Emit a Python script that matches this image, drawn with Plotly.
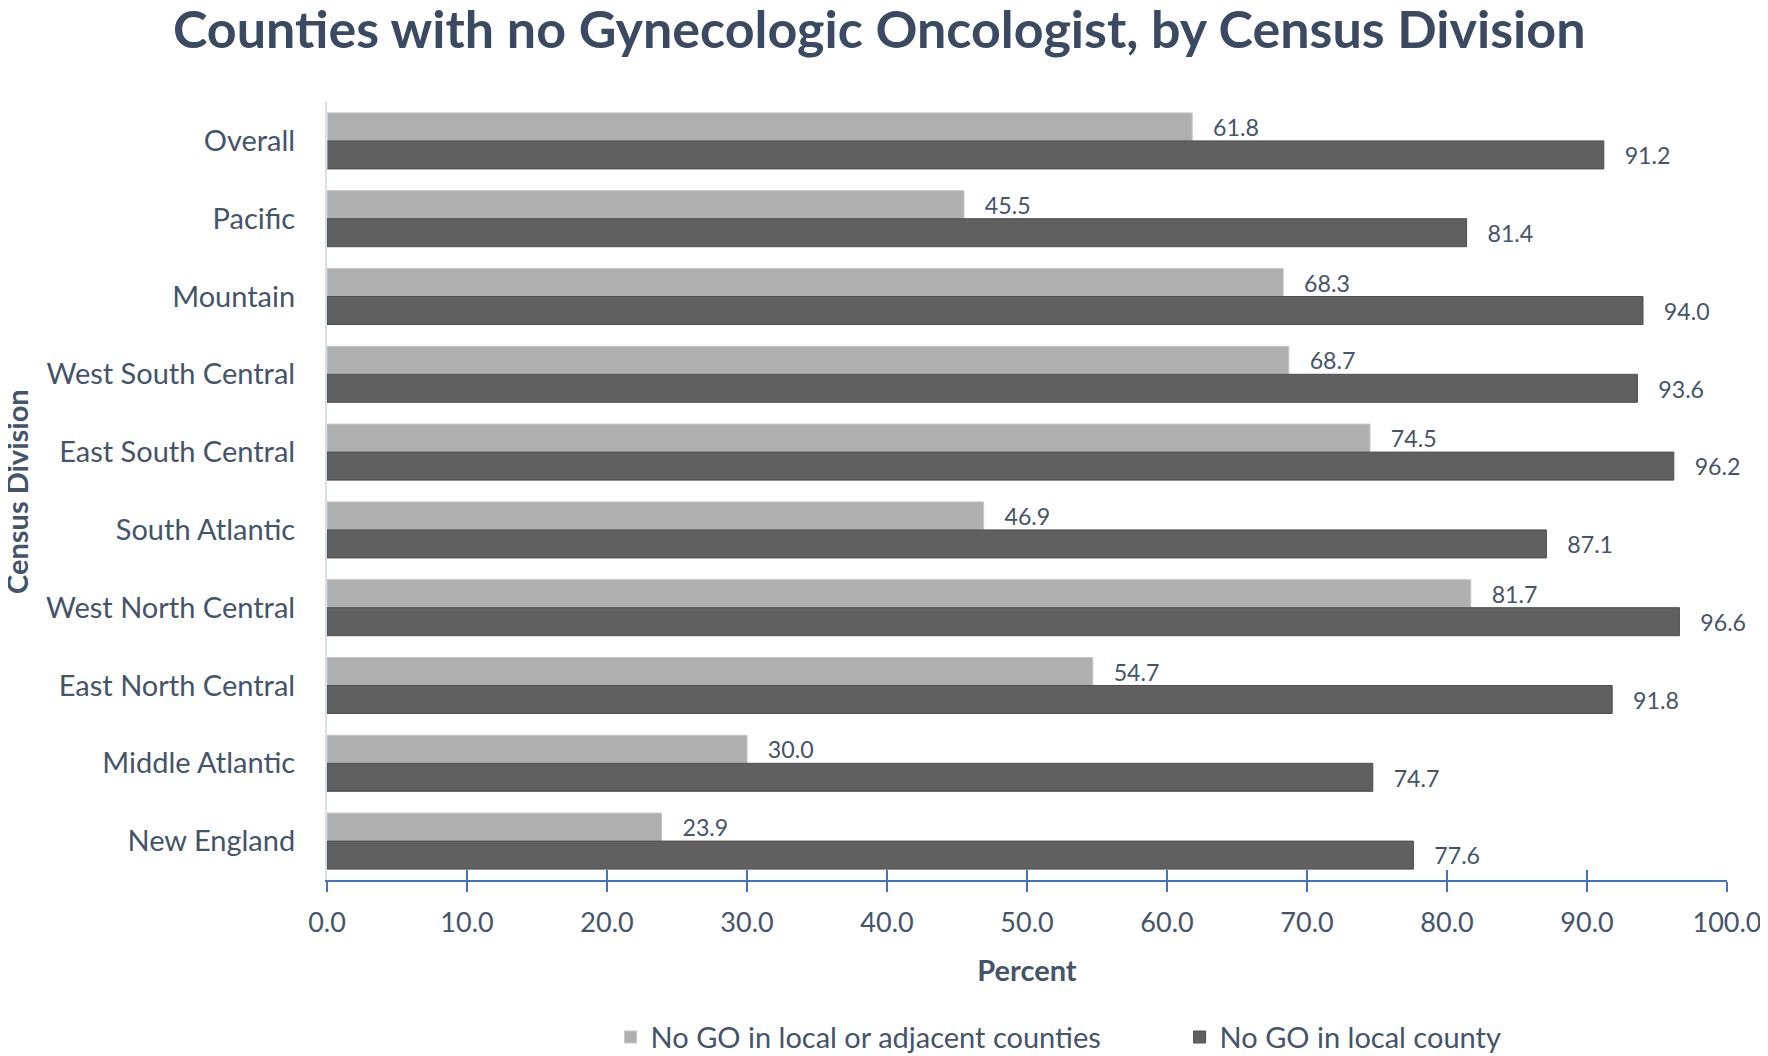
import plotly.graph_objects as go

categories = ["Overall", "Pacific", "Mountain", "West South Central", "East South Central",
              "South Atlantic", "West North Central", "East North Central", "Middle Atlantic",
              "New England"]
adjacent = [61.8, 45.5, 68.3, 68.7, 74.5, 46.9, 81.7, 54.7, 30.0, 23.9]
local = [91.2, 81.4, 94.0, 93.6, 96.2, 87.1, 96.6, 91.8, 74.7, 77.6]
series_names = ["No GO in local or adjacent counties", "No GO in local county"]
x_ticks = [0, 10, 20, 30, 40, 50, 60, 70, 80, 90, 100]

TEXT = "#44546A"
FONT = "Lato"
FS = 29

fig = go.Figure()
fig.add_trace(go.Bar(
    y=categories, x=adjacent, orientation="h", name=series_names[0],
    marker=dict(color="#afafaf", line=dict(color="#c6c6c6", width=1)),
    texttemplate="   %{x:.1f}", textposition="outside", cliponaxis=False,
    textfont=dict(color=TEXT, size=FS, family=FONT),
))
fig.add_trace(go.Bar(
    y=categories, x=local, orientation="h", name=series_names[1],
    marker=dict(color="#606060", line=dict(color="#4e4e4e", width=1)),
    texttemplate="   %{x:.1f}", textposition="outside", cliponaxis=False,
    textfont=dict(color=TEXT, size=FS, family=FONT),
))
# invisible helper trace to carry the upward half of the x-axis ticks
fig.add_trace(go.Bar(y=[categories[0]], x=[0], xaxis="x2", showlegend=False,
                     hoverinfo="skip", orientation="h", marker=dict(color="rgba(0,0,0,0)")))

fig.add_annotation(text="<b>Census Division</b>", textangle=-90,
                   xref="paper", yref="paper", x=-0.2222, y=0.5,
                   xanchor="center", yanchor="middle", showarrow=False,
                   font=dict(size=FS, color=TEXT, family=FONT))

fig.update_layout(
    width=1760, height=1056,
    paper_bgcolor="white", plot_bgcolor="white",
    margin=dict(l=319, r=41, t=94, b=184, autoexpand=False),
    barmode="group", bargap=0.28, bargroupgap=0,
    font=dict(family=FONT, color=TEXT, size=FS),
    title=dict(text="<b>Counties with no Gynecologic Oncologist, by Census Division</b>",
               x=0.495, xanchor="center", y=0.979, yanchor="middle",
               font=dict(size=52, color="#3b4a63", family=FONT)),
    xaxis=dict(range=[0, 100], tickvals=x_ticks, ticktext=[f"{v:.1f}" for v in x_ticks],
               showgrid=False, zeroline=False, automargin=False,
               showline=True, linecolor="#4472C4", linewidth=2,
               ticks="outside", ticklen=10, tickwidth=2, tickcolor="#4472C4",
               ticklabelstandoff=8, ticklabeloverflow="allow",
               tickfont=dict(size=27, color=TEXT),
               title=dict(text="<b>Percent</b>", font=dict(size=FS, color=TEXT), standoff=23)),
    xaxis2=dict(range=[0, 100], tickvals=x_ticks, overlaying="x", side="bottom",
                anchor="y", showticklabels=False, showgrid=False, zeroline=False,
                automargin=False,
                showline=False, ticks="inside", ticklen=10, tickwidth=2, tickcolor="#4472C4"),
    yaxis=dict(categoryorder="array", categoryarray=categories, autorange="reversed",
               showgrid=False, showline=True, linecolor="#d9dfe8", linewidth=2,
               ticks="", ticklabelstandoff=24, automargin=False,
               tickfont=dict(size=FS, color=TEXT)),
    legend=dict(orientation="h", x=0.609, xanchor="center", y=-0.202, yanchor="middle",
                font=dict(size=FS, color=TEXT), itemwidth=30, traceorder="normal",
                entrywidthmode="pixels", entrywidth=524),
)

fig.write_html("out.html")
